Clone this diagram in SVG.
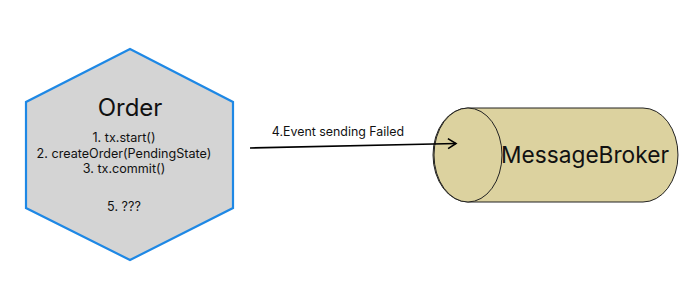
<svg xmlns="http://www.w3.org/2000/svg" width="700" height="308" viewBox="0 0 700 308">
<style>
text{font-family:Inter,"Liberation Sans",sans-serif;fill:#111;}
.s{font-size:12.6px;text-anchor:middle;}
</style>
<defs>
<marker id="arr" markerWidth="12" markerHeight="12" refX="10" refY="6" orient="auto" markerUnits="userSpaceOnUse">
<path d="M2,1 L10,6 L2,11" fill="none" stroke="#000" stroke-width="1.6"/>
</marker>
</defs>
<rect width="700" height="308" fill="#fff"/>
<g id="order">
<polygon points="130,49 233,102 233,208 130,260 26,208 26,102" fill="#d4d4d4" stroke="#1e88e5" stroke-width="2.2"/>
<text x="130" y="116" font-size="24" text-anchor="middle">Order</text>
<text class="s" x="124" y="142">1. tx.start()</text>
<text class="s" x="124" y="158">2. createOrder(PendingState)</text>
<text class="s" x="124" y="173">3. tx.commit()</text>
<text class="s" x="124" y="211">5. ???</text>
</g>
<g id="broker">
<path d="M468,108 L643,108 A35,47 0 0 1 643,202 L468,202 A35,47 0 0 1 468,108 Z" fill="#dcd29f" stroke="#222" stroke-width="1"/>
<ellipse cx="468" cy="155" rx="34" ry="47" fill="#dcd29f" stroke="#222" stroke-width="1"/>
<text x="585" y="163" font-size="22.7" text-anchor="middle">MessageBroker</text>
</g>
<g id="connectors">
<path d="M250,148 L456,143.5" fill="none" stroke="#000" stroke-width="1.6" marker-end="url(#arr)"/>
<text x="338" y="136" font-size="12.4" text-anchor="middle">4.Event sending Failed</text>
</g>
</svg>
